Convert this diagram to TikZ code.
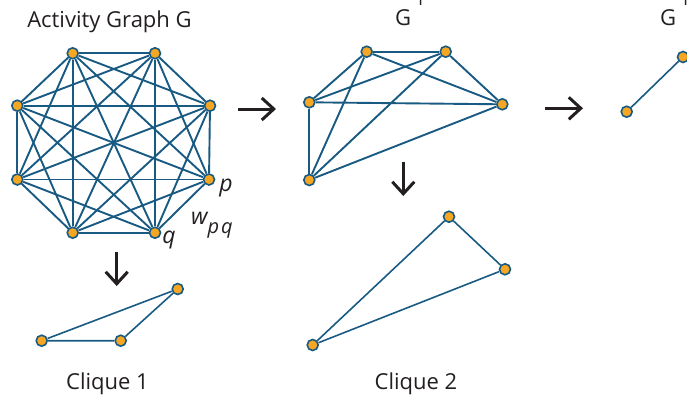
\documentclass[tikz,border=0pt]{standalone}
\usepackage{fontspec}
\setmainfont{Open Sans}
\usetikzlibrary{arrows.meta,positioning}
\definecolor{edgeblue}{RGB}{24,90,130}
\definecolor{vtxorange}{RGB}{245,166,35}
\definecolor{inkgray}{RGB}{35,31,32}

\begin{document}
\begin{tikzpicture}[x=1pt,y=-1pt,
 vtx/.style={circle,fill=vtxorange,draw=edgeblue,line width=1.6pt,inner sep=0pt,minimum size=11pt},
 edge/.style={draw=edgeblue,line width=1.9pt},
 thinedge/.style={draw=edgeblue,line width=1.6pt},
 lab/.style={font=\fontsize{22}{26}\selectfont,text=inkgray,anchor=base,inner sep=0pt},
 ilab/.style={font=\fontsize{23}{27}\selectfont\itshape,text=inkgray,inner sep=0pt},
 flow/.style={draw=inkgray,line width=3pt,-{Straight Barb[length=12pt,width=22pt,line width=3pt]}}]
\useasboundingbox (0,0) rectangle (687,402);
\clip (0,0) rectangle (687,402);
% activity graph, complete on eight vertices
\node[vtx] (g1) at (72.7,53.3) {};
\node[vtx] (g2) at (155,53.3) {};
\node[vtx] (g3) at (210,105.7) {};
\node[vtx] (g4) at (209,179.5) {};
\node[vtx] (g5) at (155,232.7) {};
\node[vtx] (g6) at (72.7,232.7) {};
\node[vtx] (g7) at (17.3,179.5) {};
\node[vtx] (g8) at (17.3,105.7) {};
\foreach \i [evaluate=\i as \k using int(\i+1)] in {1,...,7}
  \foreach \j in {\k,...,8}
    \draw[edge] (g\i) -- (g\j);
\node[lab] (title) at (109.5,27.3) {Activity Graph G};
\node[ilab] (plab) at (226,188) {p};
\node[ilab] (qlab) at (169,240) {q};
\node[ilab,anchor=base west] (wlab) at (191,224) {w\raisebox{-9pt}{\fontsize{20}{24}\selectfont p\hspace{2pt}q}};
% first reduced graph
\node[vtx] (h1) at (366.7,51.7) {};
\node[vtx] (h2) at (445.7,51.7) {};
\node[vtx] (h3) at (502.3,104.3) {};
\node[vtx] (h4) at (309.3,180) {};
\node[vtx] (h5) at (309.3,102.3) {};
\foreach \i [evaluate=\i as \k using int(\i+1)] in {1,...,4}
  \foreach \j in {\k,...,5}
    \draw[edge] (h\i) -- (h\j);
\node[lab,anchor=base west] (glab1) at (395,25) {G\hspace{4pt}\raisebox{20pt}{\fontsize{18}{20}\selectfont 1}};
% second reduced graph
\node[vtx] (k1) at (626.7,111.7) {};
\node[vtx] (k2) at (683,57) {};
\draw[thinedge] (k1) -- (k2);
\node[lab,anchor=base west] (glab2) at (660,25) {G\hspace{4pt}\raisebox{20pt}{\fontsize{18}{20}\selectfont 1}};
% cliques
\node[vtx] (c1) at (41.7,340.7) {};
\node[vtx] (c2) at (120.7,340.7) {};
\node[vtx] (c3) at (177.7,289) {};
\draw[thinedge] (c1) -- (c2) (c2) -- (c3) (c3) -- (c1);
\node[lab] (clab1) at (107.5,389) {Clique 1};
\node[vtx] (d1) at (449,216.7) {};
\node[vtx] (d2) at (505,269.3) {};
\node[vtx] (d3) at (312.7,345) {};
\draw[thinedge] (d1) -- (d2) (d2) -- (d3) (d3) -- (d1);
\node[lab] (clab2) at (416,389) {Clique 2};
% arrows between the steps
\coordinate (r1s) at (238,109);
\coordinate (r1e) at (276,109);
\coordinate (r2s) at (545,108.3);
\coordinate (r2e) at (583,108.3);
\coordinate (d1s) at (116.7,251.7);
\coordinate (d1e) at (116.7,286);
\coordinate (d2s) at (403.3,161.7);
\coordinate (d2e) at (403.3,196);
\foreach \a/\b in {r1s/r1e,r2s/r2e,d1s/d1e,d2s/d2e}
  \draw[flow] (\a) -- (\b);
\end{tikzpicture}
\end{document}
